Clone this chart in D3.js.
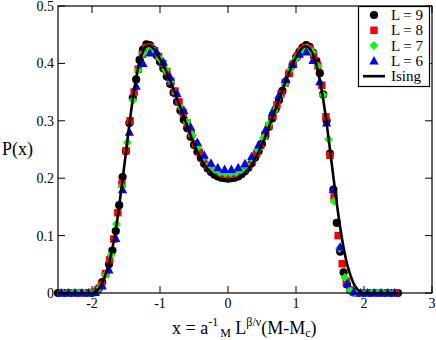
<!DOCTYPE html>
<html><head><meta charset="utf-8">
<script src="https://cdn.jsdelivr.net/npm/d3@7"></script>
<style>body{margin:0;background:#fff}svg{display:block}text{font-family:"Liberation Serif","Times New Roman",serif;fill:#000}</style>
</head><body>
<svg id="chart" width="436" height="340"></svg>
<script>
// ---- data ----
const seriesNames = ["L = 9", "L = 8", "L = 7", "L = 6", "Ising"];
const xTicks = [-2, -1, 0, 1, 2, 3];
const xTickLabels = ["-2", "-1", "0", "1", "2", "3"];
const yTicks = [0, 0.1, 0.2, 0.3, 0.4, 0.5];
const yTickLabels = ["0", "0.1", "0.2", "0.3", "0.4", "0.5"];

const xL9 = [-2.5,-2.4,-2.3,-2.2,-2.1,-2.0,-1.95,-1.9,-1.85,-1.8,-1.75,-1.7,-1.65,-1.6,-1.55,-1.5,-1.45,-1.4,-1.35,-1.3,-1.25,-1.2,-1.15,-1.1,-1.05,-1.0,-0.95,-0.9,-0.85,-0.8,-0.75,-0.7,-0.65,-0.6,-0.55,-0.5,-0.45,-0.4,-0.35,-0.3,-0.25,-0.2,-0.15,-0.1,-0.05,0,0.05,0.1,0.15,0.2,0.25,0.3,0.35,0.4,0.45,0.5,0.55,0.6,0.65,0.7,0.75,0.8,0.85,0.9,0.95,1.0,1.05,1.1,1.15,1.2,1.25,1.3,1.35,1.4,1.45,1.5,1.55,1.6,1.65,1.7,1.75,1.8,1.85,1.9,1.95,2.0,2.1,2.2,2.3,2.4,2.5];
const yL9 = [0,0,0,0,0,0,0.002,0.008,0.019,0.033,0.050,0.074,0.108,0.153,0.202,0.247,0.296,0.340,0.372,0.406,0.424,0.433,0.432,0.424,0.414,0.403,0.391,0.377,0.364,0.349,0.333,0.318,0.302,0.287,0.272,0.258,0.246,0.235,0.225,0.217,0.211,0.206,0.203,0.201,0.200,0.199,0.200,0.201,0.203,0.207,0.212,0.218,0.226,0.236,0.247,0.260,0.274,0.289,0.304,0.320,0.336,0.352,0.368,0.383,0.397,0.410,0.420,0.428,0.432,0.429,0.419,0.404,0.383,0.346,0.300,0.243,0.180,0.122,0.072,0.036,0.015,0.005,0.001,0,0,0,0,0,0,0,0];

const xL8 = [-2.46,-2.34,-2.22,-2.1,-1.98,-1.92,-1.86,-1.80,-1.74,-1.68,-1.62,-1.56,-1.50,-1.44,-1.38,-1.32,-1.26,-1.20,-1.14,-1.08,-1.02,-0.96,-0.90,-0.84,-0.78,-0.72,-0.66,-0.60,-0.54,-0.48,-0.42,-0.36,-0.30,-0.24,-0.18,-0.12,-0.06,0.00,0.06,0.12,0.18,0.24,0.30,0.36,0.42,0.48,0.54,0.60,0.66,0.72,0.78,0.84,0.90,0.96,1.02,1.08,1.14,1.20,1.26,1.32,1.38,1.44,1.50,1.56,1.62,1.68,1.74,1.80,1.86,1.92,1.98,2.1,2.22,2.34,2.46];
const yL8 = [0,0,0,0,0.001,0.005,0.015,0.034,0.058,0.094,0.140,0.190,0.248,0.300,0.350,0.390,0.416,0.428,0.429,0.422,0.412,0.400,0.386,0.369,0.352,0.333,0.314,0.296,0.277,0.260,0.245,0.233,0.223,0.216,0.211,0.208,0.206,0.205,0.205,0.207,0.210,0.215,0.222,0.231,0.243,0.257,0.273,0.291,0.309,0.328,0.347,0.366,0.383,0.399,0.413,0.423,0.428,0.426,0.414,0.396,0.362,0.307,0.240,0.166,0.100,0.051,0.020,0.005,0.001,0,0,0,0,0,0];

const xL7 = [-2.44,-2.36,-2.28,-2.20,-2.12,-2.04,-1.96,-1.88,-1.80,-1.72,-1.64,-1.56,-1.48,-1.40,-1.32,-1.24,-1.16,-1.08,-1.00,-0.92,-0.84,-0.76,-0.68,-0.60,-0.52,-0.44,-0.36,-0.28,-0.20,-0.12,-0.04,0.04,0.12,0.20,0.28,0.36,0.44,0.52,0.60,0.68,0.76,0.84,0.92,1.00,1.08,1.16,1.24,1.32,1.40,1.48,1.56,1.64,1.72,1.80,1.88,1.96,2.04,2.12,2.20,2.28,2.36,2.44];
const yL7 = [0,0,0,0,0,0,0.001,0.010,0.032,0.066,0.120,0.186,0.262,0.336,0.388,0.418,0.426,0.421,0.408,0.389,0.370,0.347,0.322,0.298,0.275,0.254,0.236,0.223,0.215,0.211,0.209,0.209,0.211,0.214,0.222,0.234,0.250,0.270,0.294,0.318,0.342,0.366,0.390,0.409,0.422,0.427,0.420,0.395,0.345,0.268,0.160,0.078,0.027,0.005,0,0,0,0,0,0,0,0];

const xL6 = [-2.45,-2.35,-2.25,-2.15,-2.05,-1.95,-1.85,-1.75,-1.65,-1.55,-1.45,-1.35,-1.25,-1.15,-1.05,-0.95,-0.85,-0.75,-0.65,-0.55,-0.45,-0.35,-0.25,-0.15,-0.05,0.05,0.15,0.25,0.35,0.45,0.55,0.65,0.75,0.85,0.95,1.05,1.15,1.25,1.35,1.45,1.55,1.65,1.75,1.85,1.95,2.05,2.15,2.25,2.35,2.45];
const yL6 = [0,0,0,0,0,0.001,0.012,0.040,0.095,0.180,0.280,0.360,0.400,0.418,0.420,0.402,0.376,0.347,0.318,0.289,0.262,0.240,0.226,0.218,0.215,0.215,0.218,0.225,0.238,0.258,0.284,0.314,0.344,0.372,0.398,0.416,0.420,0.405,0.368,0.296,0.180,0.080,0.016,0.002,0,0,0,0,0,0];

const xIsing = [-2.5,-2.0,-1.95,-1.9,-1.85,-1.8,-1.75,-1.7,-1.65,-1.6,-1.55,-1.5,-1.45,-1.4,-1.35,-1.3,-1.25,-1.2,-1.15,-1.1,-1.05,-1.0,-0.95,-0.9,-0.85,-0.8,-0.75,-0.7,-0.65,-0.6,-0.55,-0.5,-0.45,-0.4,-0.35,-0.3,-0.25,-0.2,-0.15,-0.1,-0.05,0,0.05,0.1,0.15,0.2,0.25,0.3,0.35,0.4,0.45,0.5,0.55,0.6,0.65,0.7,0.75,0.8,0.85,0.9,0.95,1.0,1.05,1.1,1.15,1.2,1.25,1.3,1.35,1.4,1.45,1.5,1.55,1.6,1.65,1.7,1.75,1.8,1.85,1.9,1.95,2.0,2.5];
const yIsing = [0,0,0.002,0.008,0.018,0.033,0.052,0.078,0.110,0.152,0.198,0.246,0.294,0.338,0.375,0.404,0.421,0.430,0.431,0.426,0.418,0.408,0.397,0.384,0.370,0.355,0.339,0.323,0.307,0.291,0.275,0.260,0.246,0.234,0.224,0.216,0.210,0.205,0.201,0.199,0.198,0.197,0.198,0.199,0.201,0.205,0.210,0.216,0.224,0.234,0.246,0.259,0.273,0.289,0.305,0.321,0.337,0.353,0.369,0.384,0.398,0.411,0.421,0.428,0.430,0.426,0.416,0.398,0.371,0.337,0.296,0.250,0.202,0.156,0.114,0.079,0.051,0.031,0.016,0.007,0.002,0,0];

// ---- drawing ----
const svg = d3.select("#chart");
const L = 58, R = 432, T = 6, B = 293;
const x = d3.scaleLinear().domain([-2.5, 3]).range([L, R]);
const y = d3.scaleLinear().domain([0, 0.5]).range([B, T]);

const tickLen = 7;
const g = svg.append("g");
xTicks.forEach(t => {
  g.append("line").attr("x1", x(t)).attr("x2", x(t)).attr("y1", B).attr("y2", B - tickLen).attr("stroke", "#000");
  g.append("line").attr("x1", x(t)).attr("x2", x(t)).attr("y1", T).attr("y2", T + tickLen).attr("stroke", "#000");
});
yTicks.forEach(t => {
  g.append("line").attr("x1", L).attr("x2", L + tickLen).attr("y1", y(t)).attr("y2", y(t)).attr("stroke", "#000");
  g.append("line").attr("x1", R).attr("x2", R - tickLen).attr("y1", y(t)).attr("y2", y(t)).attr("stroke", "#000");
});
xTicks.forEach((t, i) => {
  g.append("text").attr("x", x(t)).attr("y", 308).attr("text-anchor", "middle").attr("font-size", 14).text(xTickLabels[i]);
});
yTicks.forEach((t, i) => {
  g.append("text").attr("x", 54).attr("y", y(t) + 5).attr("text-anchor", "end").attr("font-size", 14).text(yTickLabels[i]);
});

const shapes = {
  circle: d3.symbol().type(d3.symbolCircle).size(Math.PI * 4.1 * 4.1),
  square: d3.symbol().type(d3.symbolSquare).size(56),
  diamond: "M0,-4.5L4.5,0L0,4.5L-4.5,0Z",
  triangle: "M0,-5L4.6,3.5L-4.6,3.5Z"
};
function pathFor(k) { return typeof shapes[k] === "string" ? shapes[k] : shapes[k](); }

const series = [
  { xs: xL9, ys: yL9, shape: "circle", color: "#000000" },
  { xs: xL8, ys: yL8, shape: "square", color: "#ff0000" },
  { xs: xL7, ys: yL7, shape: "diamond", color: "#00ff00" },
  { xs: xL6, ys: yL6, shape: "triangle", color: "#0000ff" }
];
series.forEach(s => {
  const pts = s.xs.map((v, i) => [v, s.ys[i]]);
  g.append("g").selectAll("path").data(pts).join("path")
    .attr("d", pathFor(s.shape))
    .attr("transform", d => `translate(${x(d[0])},${y(d[1])})`)
    .attr("fill", s.color);
});

const line = d3.line().x(d => x(d[0])).y(d => y(d[1])).curve(d3.curveMonotoneX);
g.append("path").datum(xIsing.map((v, i) => [v, yIsing[i]]))
  .attr("d", line).attr("fill", "none").attr("stroke", "#000").attr("stroke-width", 2.6);

g.append("rect").attr("x", L).attr("y", T).attr("width", R - L).attr("height", B - T)
  .attr("fill", "none").attr("stroke", "#000").attr("stroke-width", 1.2);

// legend
const lg = svg.append("g");
lg.append("rect").attr("x", 358.5).attr("y", 6.5).attr("width", 71).attr("height", 80)
  .attr("fill", "#fff").attr("stroke", "#000").attr("stroke-width", 1.2);
const rowY = i => 15 + 15.3 * i;
series.forEach((s, i) => {
  lg.append("path").attr("d", pathFor(s.shape)).attr("transform", `translate(374,${rowY(i)})`).attr("fill", s.color);
  lg.append("text").attr("x", 391).attr("y", rowY(i) + 5).attr("font-size", 15).text(seriesNames[i]);
});
lg.append("line").attr("x1", 363).attr("x2", 385).attr("y1", rowY(4)).attr("y2", rowY(4)).attr("stroke", "#000").attr("stroke-width", 2.6);
lg.append("text").attr("x", 391).attr("y", rowY(4) + 5).attr("font-size", 15).text(seriesNames[4]);

// axis labels
svg.append("text").attr("x", 2).attr("y", 155).attr("font-size", 18).text("P(x)");
const xl = svg.append("text").attr("x", 172).attr("y", 334).attr("font-size", 18);
xl.append("tspan").text("x = a");
xl.append("tspan").attr("font-size", 12).attr("dy", -8).text("-1");
xl.append("tspan").attr("font-size", 12).attr("dx", 2).attr("dy", 11).text("M");
xl.append("tspan").attr("dy", -3).text(" L");
xl.append("tspan").attr("font-size", 12).attr("dy", -8).text("β/ν");
xl.append("tspan").attr("dy", 8).text("(M-M");
xl.append("tspan").attr("font-size", 12).attr("dy", 3).text("c");
xl.append("tspan").attr("dy", -3).text(")");
</script>
</body></html>
